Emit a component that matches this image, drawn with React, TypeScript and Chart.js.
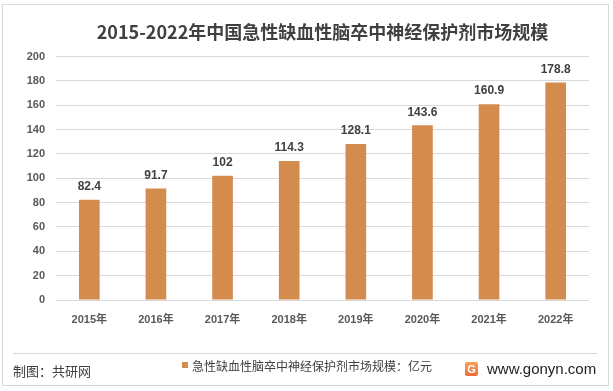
import React, { useEffect, useRef } from "react";
import { Chart, registerables } from "chart.js";

Chart.register(...registerables);

const years = ["2015年", "2016年", "2017年", "2018年", "2019年", "2020年", "2021年", "2022年"];
const marketSize = [82.4, 91.7, 102, 114.3, 128.1, 143.6, 160.9, 178.8];
const yTicks = [0, 20, 40, 60, 80, 100, 120, 140, 160, 180, 200];
const titleText = "2015-2022年中国急性缺血性脑卒中神经保护剂市场规模";
const seriesName = "急性缺血性脑卒中神经保护剂市场规模：亿元";
const sourceText = "制图：共研网";
const siteText = "www.gonyn.com";

const BAR_COLOR = "#D48B4E";
const TEXT_DARK = "#404040";
const TEXT_MID = "#595959";
const GRID = "#D9D9D9";
const FONT = "'Liberation Sans', 'Noto Sans CJK SC', sans-serif";
const CJK = "'Noto Sans CJK SC', 'Liberation Sans', sans-serif";

const valueLabels = {
  id: "valueLabels",
  afterDatasetsDraw(chart: any) {
    const { ctx } = chart;
    const meta = chart.getDatasetMeta(0);
    const data = chart.data.datasets[0].data as number[];
    ctx.save();
    ctx.font = `bold 12px ${FONT}`;
    ctx.fillStyle = TEXT_DARK;
    ctx.textAlign = "center";
    ctx.textBaseline = "bottom";
    meta.data.forEach((bar: any, i: number) => {
      ctx.fillText(String(data[i]), bar.x, bar.y - 7);
    });
    ctx.restore();
  },
};

export default function App() {
  const canvasRef = useRef<HTMLCanvasElement | null>(null);

  useEffect(() => {
    if (!canvasRef.current) return;
    const chart = new Chart(canvasRef.current, {
      type: "bar",
      data: {
        labels: years,
        datasets: [
          {
            label: seriesName,
            data: marketSize,
            backgroundColor: BAR_COLOR,
            borderWidth: 0,
            barPercentage: 1,
            categoryPercentage: 0.31,
          },
        ],
      },
      options: {
        responsive: false,
        animation: false,
        events: [],
        layout: { padding: { left: 0, right: 24, top: 0, bottom: 0 } },
        plugins: {
          legend: { display: false },
          tooltip: { enabled: false },
          title: {
            display: true,
            text: titleText,
            fullSize: false,
            color: TEXT_DARK,
            font: { size: 18, weight: "bold", family: CJK, lineHeight: 1.2 },
            padding: { top: 21, bottom: 14 },
          },
        },
        scales: {
          x: {
            grid: { display: false, drawTicks: false },
            border: { display: false },
            ticks: {
              color: TEXT_MID,
              font: { size: 11, weight: "bold", family: FONT },
              padding: 13,
              maxRotation: 0,
            },
            afterFit(scale: any) {
              scale.height = 91;
            },
          },
          y: {
            min: 0,
            max: 200,
            afterBuildTicks(scale: any) {
              scale.ticks = yTicks.map((v) => ({ value: v }));
            },
            grid: { color: GRID, lineWidth: 1, drawTicks: false },
            border: { display: false },
            ticks: {
              color: TEXT_MID,
              font: { size: 11, weight: "bold", family: FONT },
              padding: 11,
            },
            afterFit(scale: any) {
              scale.width = 56;
            },
          },
        },
      },
      plugins: [valueLabels],
    });
    return () => chart.destroy();
  }, []);

  return (
    <div
      style={{
        position: "fixed",
        left: 0,
        top: 0,
        width: 613,
        height: 391,
        background: "#fff",
        overflow: "hidden",
      }}
    >
      <div
        style={{
          position: "absolute",
          left: 2,
          top: 4,
          width: 605,
          height: 380,
          border: "1px solid #D9D9D9",
        }}
      />
      <canvas
        ref={canvasRef}
        width={613}
        height={391}
        style={{ position: "absolute", left: 0, top: 0, width: 613, height: 391 }}
      />
      <div
        style={{
          position: "absolute",
          left: 13,
          top: 353,
          width: 584,
          height: 1,
          background: GRID,
        }}
      />
      <div
        style={{
          position: "absolute",
          left: 13,
          top: 362,
          fontFamily: CJK,
          fontSize: 13,
          lineHeight: "18px",
          color: TEXT_DARK,
          whiteSpace: "nowrap",
        }}
      >
        {sourceText}
      </div>
      <div
        style={{
          position: "absolute",
          left: 182,
          top: 357,
          height: 16,
          display: "flex",
          alignItems: "center",
          fontFamily: CJK,
          fontSize: 12,
          color: TEXT_DARK,
          whiteSpace: "nowrap",
        }}
      >
        <span
          style={{
            display: "inline-block",
            width: 6,
            height: 6,
            background: BAR_COLOR,
            marginRight: 4,
          }}
        />
        <span>{seriesName}</span>
      </div>
      <div
        style={{
          position: "absolute",
          left: 465,
          top: 362,
          width: 13,
          height: 14,
          borderRadius: 2,
          background: "linear-gradient(180deg, #F9A25A 0%, #EE6A3A 100%)",
          color: "#fff",
          fontFamily: FONT,
          fontWeight: "bold",
          fontSize: 11,
          lineHeight: "14px",
          textAlign: "center",
        }}
      >
        G
      </div>
      <div
        style={{
          position: "absolute",
          left: 487,
          top: 360,
          fontFamily: "'Liberation Sans', sans-serif",
          fontSize: 15,
          lineHeight: "18px",
          color: "#222",
          whiteSpace: "nowrap",
        }}
      >
        {siteText}
      </div>
    </div>
  );
}
